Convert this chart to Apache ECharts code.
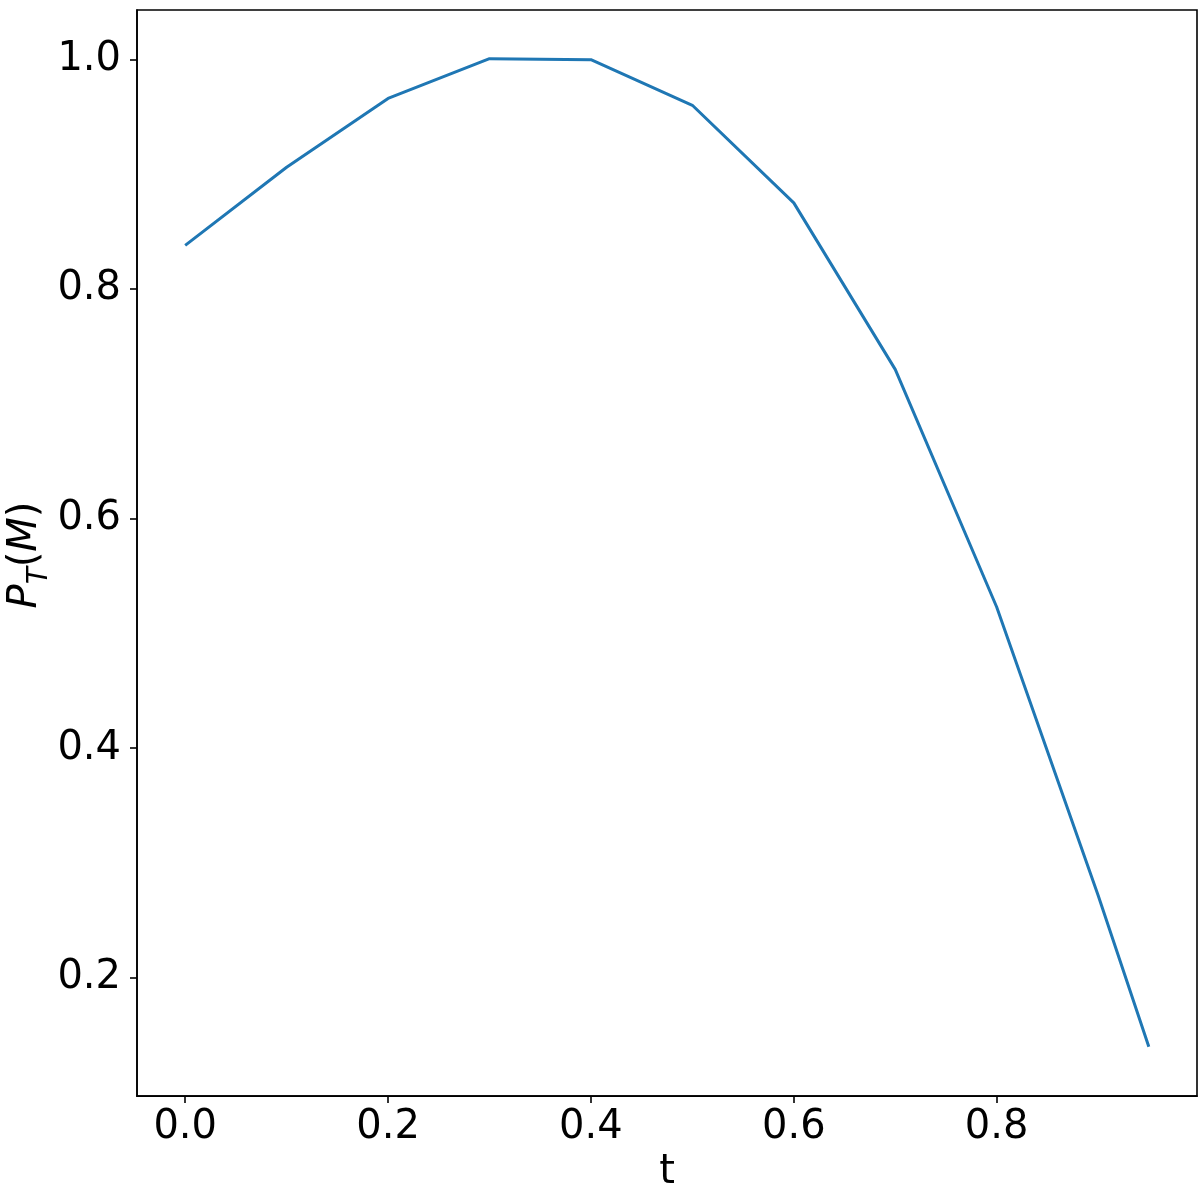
<!DOCTYPE html>
<html>
<head>
<meta charset="utf-8">
<script src="https://cdn.jsdelivr.net/npm/echarts@6/dist/echarts.min.js"></script>
<style>
html,body{margin:0;padding:0;background:#fff;}
#c{width:1200px;height:1198px;}
</style>
</head>
<body>
<div id="c"></div>
<script>
const tValues = [0, 0.1, 0.2, 0.3, 0.4, 0.5, 0.6, 0.7, 0.8, 0.9, 0.95];
const pValues = [0.838, 0.906, 0.966, 1.0006, 0.9997, 0.960, 0.875, 0.730, 0.523, 0.272, 0.140];
const xTicks = [0, 0.2, 0.4, 0.6, 0.8];
const yTicks = [0.2, 0.4, 0.6, 0.8, 1.0];

const FONT = 'DejaVu Sans';
const chart = echarts.init(document.getElementById('c'), null, {renderer: 'canvas'});
const seriesData = tValues.map((t, i) => [t, pValues[i]]);

chart.setOption({
  animation: false,
  backgroundColor: '#fff',
  grid: {
    left: 137, top: 10, right: 3, bottom: 100,
    show: true, borderColor: '#000', borderWidth: 1.6, backgroundColor: 'transparent'
  },
  xAxis: {
    type: 'value',
    min: -0.0475, max: 0.9975,
    name: 't',
    nameLocation: 'middle',
    nameGap: 56,
    nameTextStyle: {fontFamily: FONT, fontSize: 40, color: '#000'},
    axisLine: {show: true, onZero: false, lineStyle: {color: '#000', width: 1.6}},
    splitLine: {show: false},
    axisTick: {show: true, inside: false, length: 7, lineStyle: {color: '#000', width: 1.6}, customValues: xTicks},
    axisLabel: {
      customValues: xTicks, margin: 12,
      fontFamily: FONT, fontSize: 40, color: '#000',
      formatter: v => v.toFixed(1)
    }
  },
  yAxis: {
    type: 'value',
    min: 0.097, max: 1.043,
    axisLine: {show: true, onZero: false, lineStyle: {color: '#000', width: 1.6}},
    splitLine: {show: false},
    axisTick: {show: true, inside: false, length: 7, lineStyle: {color: '#000', width: 1.6}, customValues: yTicks},
    axisLabel: {
      customValues: yTicks, margin: 16,
      fontFamily: FONT, fontSize: 40, color: '#000',
      formatter: v => v.toFixed(1)
    }
  },
  graphic: [{
    type: 'text',
    x: 26, y: 555,
    rotation: Math.PI / 2,
    style: {
      text: '{i|P}{s|T}{u|(}{i|M}{u|)}',
      align: 'center',
      verticalAlign: 'middle',
      fill: '#000',
      rich: {
        i: {fontFamily: FONT, fontStyle: 'italic', fontSize: 40, lineHeight: 56, fill: '#000'},
        u: {fontFamily: FONT, fontSize: 40, lineHeight: 56, fill: '#000'},
        s: {fontFamily: FONT, fontStyle: 'italic', fontSize: 28, lineHeight: 30, verticalAlign: 'bottom', fill: '#000'}
      }
    }
  }],
  series: [{
    type: 'line',
    data: seriesData,
    showSymbol: false,
    symbol: 'none',
    lineStyle: {color: '#1f77b4', width: 3},
    itemStyle: {color: '#1f77b4'}
  }]
});
</script>
</body>
</html>
